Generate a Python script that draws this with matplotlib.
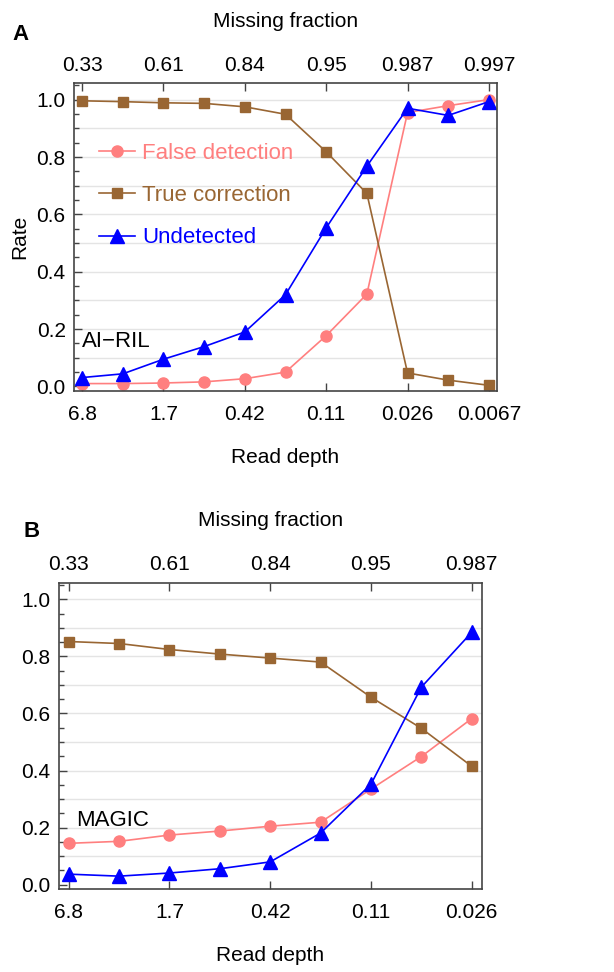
import matplotlib.pyplot as plt
import numpy as np
from matplotlib.ticker import MultipleLocator

plt.rcParams['font.family'] = ['Liberation Sans', 'DejaVu Sans']

# panel A (AI-RIL)
depth_a = ["6.8", "", "1.7", "", "0.42", "", "0.11", "", "0.026", "", "0.0067"]
missing_a = ["0.33", "", "0.61", "", "0.84", "", "0.95", "", "0.987", "", "0.997"]
false_a = [0.010, 0.010, 0.012, 0.016, 0.027, 0.050, 0.177, 0.322, 0.955, 0.979, 1.0]
true_a = [0.996, 0.993, 0.989, 0.987, 0.975, 0.949, 0.818, 0.673, 0.047, 0.022, 0.004]
undet_a = [0.031, 0.044, 0.095, 0.139, 0.190, 0.320, 0.553, 0.768, 0.970, 0.945, 0.993]

# panel B (MAGIC)
depth_b = ["6.8", "", "1.7", "", "0.42", "", "0.11", "", "0.026"]
missing_b = ["0.33", "", "0.61", "", "0.84", "", "0.95", "", "0.987"]
false_b = [0.145, 0.152, 0.174, 0.188, 0.205, 0.219, 0.335, 0.449, 0.582]
true_b = [0.852, 0.845, 0.824, 0.808, 0.794, 0.780, 0.657, 0.548, 0.415]
undet_b = [0.037, 0.030, 0.041, 0.056, 0.080, 0.181, 0.352, 0.692, 0.884]

c_false = '#ff7f7f'
c_true = '#996633'
c_undet = '#0000ff'
frame = '#444444'

fig = plt.figure(figsize=(6.14, 9.72), dpi=100)


def panel(rect, depth, missing, fd, tc, ud, name, name_xy, letter, letter_xy, ylabel, legend):
    ax = fig.add_axes(rect)
    x = np.arange(len(depth))
    for y in np.arange(0.1, 1.01, 0.1):
        ax.axhline(y, color='#e4e4e4', lw=1.0, zorder=0)
    l1, = ax.plot(x, fd, color=c_false, lw=1.2, marker='o', ms=8, label='False detection')
    l2, = ax.plot(x, tc, color=c_true, lw=1.2, marker='s', ms=7, label='True correction')
    l3, = ax.plot(x, ud, color=c_undet, lw=1.2, marker='^', ms=10, label='Undetected')
    ax.set_xlim(-0.2, len(x) - 1 + 0.2)
    ax.set_ylim(-0.016, 1.058)
    ax.set_xticks(x[::2])
    ax.set_xticklabels(depth[::2])
    ax.yaxis.set_minor_locator(MultipleLocator(0.05))
    ax.set_yticks([0, 0.2, 0.4, 0.6, 0.8, 1.0])
    ax.set_yticklabels(["0.0", "0.2", "0.4", "0.6", "0.8", "1.0"])
    ax.tick_params(axis='x', direction='in', length=6, width=1, color=frame,
                   labelsize=15, pad=10)
    ax.tick_params(axis='y', which='major', direction='in', length=6, width=1,
                   color=frame, labelsize=15, pad=6)
    ax.tick_params(axis='y', which='minor', direction='in', length=3.5, width=1,
                   color=frame)
    for s in ax.spines.values():
        s.set_color(frame)
        s.set_linewidth(1.2)
    ax.set_xlabel('Read depth', fontsize=15, labelpad=17)
    if ylabel:
        ax.set_ylabel('Rate', fontsize=15, labelpad=5)

    top = ax.twiny()
    top.set_xlim(ax.get_xlim())
    top.set_xticks(x[::2])
    top.set_xticklabels(missing[::2])
    top.tick_params(axis='x', direction='in', length=6, width=1, color=frame,
                    labelsize=15, pad=6)
    top.set_xlabel('Missing fraction', fontsize=15, labelpad=21)
    for s in top.spines.values():
        s.set_visible(False)

    ax.text(name_xy[0], name_xy[1], name, fontsize=16, ha='left', va='center')
    fig.text(letter_xy[0], letter_xy[1], letter, fontsize=16, fontweight='bold',
             ha='left', va='center')
    if legend:
        leg = ax.legend(handles=[l1, l2, l3], loc='upper left',
                        bbox_to_anchor=(0.059, 0.805), frameon=False,
                        fontsize=16, handlelength=1.6, handletextpad=0.35,
                        labelspacing=0.95, borderpad=0, borderaxespad=0)
        for t, c in zip(leg.get_texts(), [c_false, c_true, c_undet]):
            t.set_color(c)
    return ax


panel([0.1205, 0.5977, 0.689, 0.3169], depth_a, missing_a, false_a, true_a, undet_a,
      'AI\u2212RIL', (0.0, 0.157), 'A', (0.021, 0.964), True, True)
panel([0.0956, 0.0851, 0.689, 0.3154], depth_b, missing_b, false_b, true_b, undet_b,
      'MAGIC', (0.14, 0.224), 'B', (0.0375, 0.4527), False, False)

fig.savefig('out.png', dpi=100)
